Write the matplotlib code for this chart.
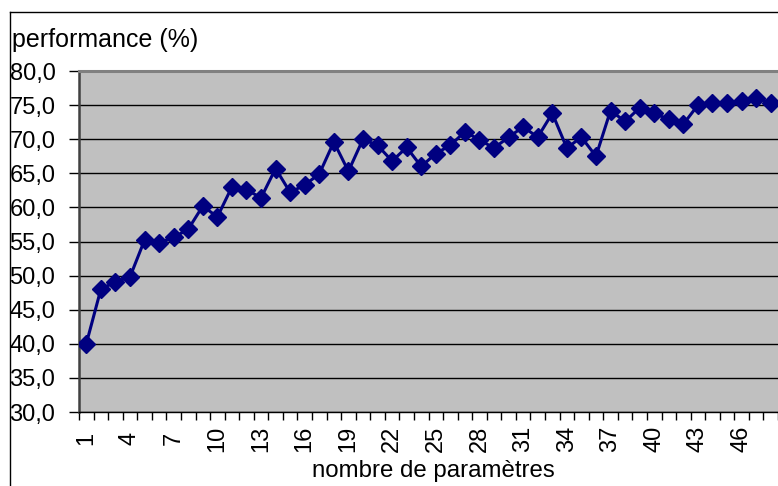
import matplotlib
matplotlib.use("Agg")
import matplotlib.pyplot as plt
from matplotlib.lines import Line2D

# Performance (%) as a function of the number of parameters
n_params = list(range(1, 49))
performance = [
    40.0, 48.0, 49.1, 49.8, 55.2, 54.8, 55.6, 56.8, 60.2, 58.6,
    63.0, 62.6, 61.4, 65.7, 62.2, 63.3, 64.9, 69.6, 65.3, 70.0,
    69.1, 66.8, 68.8, 66.0, 67.9, 69.1, 71.1, 69.9, 68.7, 70.3,
    71.8, 70.3, 73.8, 68.7, 70.3, 67.5, 74.2, 72.6, 74.6, 73.8,
    72.9, 72.2, 75.0, 75.3, 75.3, 75.6, 76.1, 75.3,
]
y_ticks = [30, 35, 40, 45, 50, 55, 60, 65, 70, 75, 80]
y_tick_labels = ["30,0", "35,0", "40,0", "45,0", "50,0", "55,0",
                 "60,0", "65,0", "70,0", "75,0", "80,0"]
x_label_step = 3

W, H = 778, 486
plt.rcParams["font.family"] = ["Liberation Sans", "DejaVu Sans"]
FS = 17

fig = plt.figure(figsize=(W / 100, H / 100), dpi=100)
fig.patch.set_facecolor("white")

# plot area in pixel coordinates
left_px, right_px, top_px, bottom_px = 79, 778, 71, 412
ax = fig.add_axes([left_px / W, 1 - bottom_px / H,
                   (right_px - left_px) / W, (bottom_px - top_px) / H])
ax.set_facecolor("#C0C0C0")

ax.plot(n_params, performance, color="#000080", lw=2.2, marker="D",
        ms=9.0, mew=1.0, mec="#000080", mfc="#000080", zorder=3)

ax.set_ylim(30, 80)
ax.set_xlim(0.5, 48.05)

ax.set_yticks(y_ticks, y_tick_labels)
ax.yaxis.grid(True, color="black", lw=1.0)
ax.set_axisbelow(True)
ax.tick_params(axis="y", direction="out", length=7, width=1, color="black",
               pad=10, labelsize=FS)

# category labels at centers, tick marks at category boundaries
label_pos = n_params[::x_label_step]
ax.set_xticks(label_pos, [str(v) for v in label_pos], rotation=90)
ax.set_xticks([k + 0.5 for k in range(0, 49)], minor=True)
ax.tick_params(axis="x", which="major", length=0, pad=19, labelsize=FS)
ax.tick_params(axis="x", which="minor", direction="out", length=6,
               width=1, color="black")
for lab in ax.get_xticklabels():
    lab.set_va("center")

ax.spines["left"].set_color("#404040")
ax.spines["left"].set_linewidth(1.8)
ax.spines["bottom"].set_color("black")
ax.spines["bottom"].set_linewidth(1.0)
ax.spines["top"].set_color("#808080")
ax.spines["top"].set_linewidth(2.2)
ax.spines["right"].set_visible(False)

# chart frame
fig.add_artist(Line2D([10 / W, 10 / W], [0, 1 - 12 / H],
                      color="black", lw=1.0, transform=fig.transFigure))
fig.add_artist(Line2D([10 / W, 1], [1 - 12 / H, 1 - 12 / H],
                      color="black", lw=1.0, transform=fig.transFigure))

fig.text(12 / W, 1 - 47 / H, "performance (%)", fontsize=18,
         ha="left", va="baseline")
fig.text(433 / W, 1 - 477 / H, "nombre de paramètres", fontsize=17.3,
         ha="center", va="baseline")

fig.savefig("out.png", dpi=100, facecolor="white")
